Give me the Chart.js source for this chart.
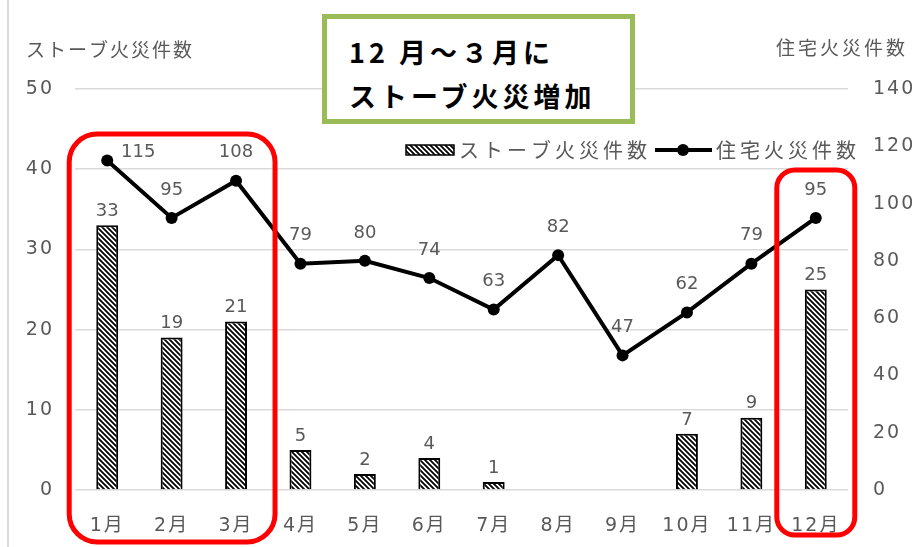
<!DOCTYPE html>
<html>
<head>
<meta charset="utf-8">
<script src="https://cdn.jsdelivr.net/npm/chart.js@4.4.1/dist/chart.umd.min.js"></script>
<style>
  body { margin: 0; background: #fff; }
  #wrap { position: relative; width: 918px; height: 547px; overflow: hidden; }
  #note {
    position: absolute; left: 322px; top: 14px; width: 313px; height: 110px;
    border: 5px solid #9bbb59; background: #fff; box-sizing: border-box;
    font-family: "Noto Sans CJK JP", sans-serif; font-weight: bold;
    font-size: 27px; letter-spacing: 4px; line-height: 44px; color: #000;
    padding: 11px 0 0 22px; white-space: nowrap;
  }
</style>
</head>
<body>
<div id="wrap">
  <canvas id="chart" width="918" height="547"></canvas>
  <div id="note">12 月～３月に<br>ストーブ火災増加</div>
</div>
<script>
const months = ["1月", "2月", "3月", "4月", "5月", "6月", "7月", "8月", "9月", "10月", "11月", "12月"];
const stoveFires = [33, 19, 21, 5, 2, 4, 1, 0, 0, 7, 9, 25];
const houseFires = [115, 95, 108, 79, 80, 74, 63, 82, 47, 62, 79, 95];
const stoveLabel = "ストーブ火災件数";
const houseLabel = "住宅火災件数";

const FONT = '"Noto Sans CJK JP", sans-serif';
const NUMFONT = '"DejaVu Sans", "Noto Sans CJK JP", sans-serif';
const GRAY = "#595959";

// diagonal hatch like the Excel pattern fill
function makeHatch() {
  const p = document.createElement("canvas");
  p.width = 5;
  p.height = 5;
  const g = p.getContext("2d");
  g.fillStyle = "#fff";
  g.fillRect(0, 0, 5, 5);
  g.strokeStyle = "#000";
  g.lineWidth = 1.8;
  g.beginPath();
  g.moveTo(-1, -1); g.lineTo(6, 6);
  g.moveTo(-4, 1); g.lineTo(1, 6);
  g.moveTo(4, -1); g.lineTo(6, 1);
  g.stroke();
  return document.getElementById("chart").getContext("2d").createPattern(p, "repeat");
}
const hatch = makeHatch();

function roundRect(ctx, x1, y1, x2, y2, r) {
  ctx.beginPath();
  ctx.moveTo(x1 + r, y1);
  ctx.arcTo(x2, y1, x2, y2, r);
  ctx.arcTo(x2, y2, x1, y2, r);
  ctx.arcTo(x1, y2, x1, y1, r);
  ctx.arcTo(x1, y1, x2, y1, r);
  ctx.closePath();
}

const extras = {
  id: "extras",
  beforeDraw(chart) {
    // wider tick text like the original
    chart.ctx.letterSpacing = "2px";
  },
  afterDatasetsDraw(chart) {
    const ctx = chart.ctx;
    ctx.save();
    ctx.letterSpacing = "0px";
    ctx.font = "18px " + NUMFONT;
    ctx.fillStyle = GRAY;
    ctx.textAlign = "center";
    ctx.textBaseline = "middle";
    // bar values
    chart.getDatasetMeta(1).data.forEach((bar, i) => {
      if (!stoveFires[i]) return;
      ctx.fillText(stoveFires[i], bar.x, bar.y - 14);
    });
    // line values
    chart.getDatasetMeta(0).data.forEach((pt, i) => {
      if (i === 0) ctx.fillText(houseFires[i], pt.x + 31, pt.y - 8);
      else ctx.fillText(houseFires[i], pt.x, pt.y - 28);
    });
    ctx.restore();
  },
  afterDraw(chart) {
    const ctx = chart.ctx;
    const xs = chart.scales.x;
    ctx.save();
    // left frame line
    ctx.strokeStyle = "#d9d9d9";
    ctx.lineWidth = 2;
    ctx.beginPath();
    ctx.moveTo(8, 0); ctx.lineTo(8, 547);
    ctx.stroke();

    // axis titles
    ctx.font = "19px " + FONT;
    ctx.fillStyle = GRAY;
    ctx.textBaseline = "middle";
    ctx.textAlign = "left";
    ctx.letterSpacing = "2px";
    ctx.fillText(stoveLabel, 26, 50);
    ctx.letterSpacing = "3px";
    ctx.fillText(houseLabel, 776, 48);

    // legend
    const ly = 150;
    ctx.fillStyle = hatch;
    ctx.fillRect(406, ly - 5, 48, 10);
    ctx.strokeStyle = "#000";
    ctx.lineWidth = 1.5;
    ctx.strokeRect(406, ly - 5, 48, 10);
    ctx.font = "20px " + FONT;
    ctx.letterSpacing = "4px";
    ctx.fillStyle = GRAY;
    ctx.fillText(stoveLabel, 459, ly);
    ctx.strokeStyle = "#000";
    ctx.lineWidth = 4;
    ctx.beginPath();
    ctx.moveTo(655, ly); ctx.lineTo(712, ly);
    ctx.stroke();
    ctx.fillStyle = "#000";
    ctx.beginPath();
    ctx.arc(683, ly, 6, 0, Math.PI * 2);
    ctx.fill();
    ctx.fillStyle = GRAY;
    ctx.fillText(houseLabel, 716, ly);

    // red highlight boxes
    ctx.strokeStyle = "#ff0000";
    ctx.lineWidth = 5;
    roundRect(ctx, xs.getPixelForValue(0) - 38, 134, xs.getPixelForValue(2) + 39, 542, 28);
    ctx.stroke();
    roundRect(ctx, xs.getPixelForValue(11) - 39, 170, xs.getPixelForValue(11) + 39, 535, 18);
    ctx.stroke();
    ctx.restore();
  }
};

new Chart(document.getElementById("chart"), {
  data: {
    labels: months,
    datasets: [
      {
        type: "line",
        label: houseLabel,
        data: houseFires,
        yAxisID: "y1",
        borderColor: "#000",
        backgroundColor: "#000",
        borderWidth: 4,
        pointRadius: 6,
        pointBackgroundColor: "#000",
        pointBorderWidth: 0,
        tension: 0,
        order: 0
      },
      {
        type: "bar",
        label: stoveLabel,
        data: stoveFires,
        yAxisID: "y",
        backgroundColor: hatch,
        borderColor: "#000",
        borderWidth: 2,
        categoryPercentage: 1,
        barPercentage: 0.34,
        order: 1
      }
    ]
  },
  options: {
    responsive: false,
    animation: false,
    devicePixelRatio: 1,
    layout: { padding: { top: 89, left: 0, right: 0, bottom: 0 } },
    plugins: { legend: { display: false }, tooltip: { enabled: false } },
    scales: {
      x: {
        grid: { display: false },
        border: { display: false },
        ticks: { color: GRAY, font: { family: NUMFONT, size: 19 }, padding: 17, maxRotation: 0 },
        afterFit: (s) => { s.height = 57; }
      },
      y: {
        position: "left",
        min: 0,
        max: 50,
        grid: { color: "#d9d9d9", lineWidth: 1.5, drawTicks: false },
        border: { display: false },
        ticks: { stepSize: 10, color: GRAY, font: { family: NUMFONT, size: 19 }, padding: 21 },
        afterFit: (s) => { s.width = 75; }
      },
      y1: {
        position: "right",
        min: 0,
        max: 140,
        grid: { display: false, drawTicks: false },
        border: { display: false },
        ticks: { stepSize: 20, color: GRAY, font: { family: NUMFONT, size: 19 }, padding: 25 },
        afterFit: (s) => { s.width = 70; }
      }
    }
  },
  plugins: [extras]
});
</script>
</body>
</html>
